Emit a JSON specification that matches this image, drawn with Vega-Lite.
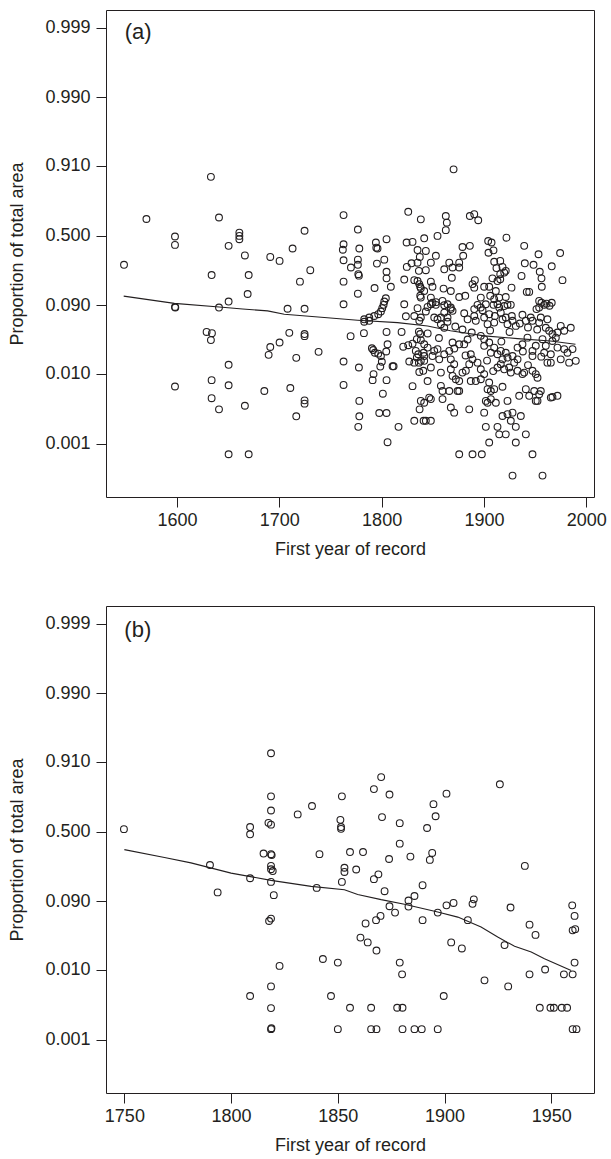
{
"$schema": "https://vega.github.io/schema/vega-lite/v6.json",
"padding": {"left": 8, "top": 9, "right": 14, "bottom": 2},
"spacing": 46,
"config": {
  "font": "Liberation Sans",
  "view": {"stroke": "#231f20", "strokeWidth": 1},
  "axis": {"domain": false, "grid": false, "tickColor": "#231f20", "tickSize": 10, "tickWidth": 1, "labelFont": "Liberation Sans", "labelFontSize": 18, "labelColor": "#231f20", "titleFont": "Liberation Sans", "titleFontSize": 18, "titleFontWeight": "normal", "titleColor": "#231f20"},
  "axisX": {"labelPadding": 4, "titlePadding": 11},
  "axisY": {"labelPadding": 6, "titlePadding": 18}
},
"datasets": {
"a": [
{"year":1633.2,"logit":1.95},{"year":1570.2,"logit":0.55},{"year":1641.1,"logit":0.60},{"year":1598.1,"logit":-0.03},{"year":1598.1,"logit":-0.31},{"year":1661.0,"logit":0.10},{"year":1661.0,"logit":-0.01},{"year":1661.0,"logit":-0.12},{"year":1650.5,"logit":-0.34},{"year":1666.4,"logit":-0.66},{"year":1548.3,"logit":-0.97},{"year":1633.9,"logit":-1.31},{"year":1670.1,"logit":-1.31},{"year":1669.1,"logit":-1.94},{"year":1650.5,"logit":-2.19},{"year":1598.1,"logit":-2.37},{"year":1598.4,"logit":-2.39},{"year":1641.1,"logit":-2.39},
{"year":1629.0,"logit":-3.20},{"year":1634.2,"logit":-3.24},{"year":1633.2,"logit":-3.47},{"year":1650.5,"logit":-4.29},{"year":1633.9,"logit":-4.80},{"year":1650.5,"logit":-4.97},{"year":1598.1,"logit":-5.01},{"year":1633.9,"logit":-5.40},{"year":1641.1,"logit":-5.77},{"year":1666.4,"logit":-5.65},{"year":1650.5,"logit":-7.26},{"year":1670.1,"logit":-7.26},
{"year":1870.3,"logit":2.2},
{"year":1762.8,"logit":0.68},{"year":1826.0,"logit":0.79},{"year":1838.3,"logit":0.54},{"year":1724.7,"logit":0.16},{"year":1776.8,"logit":0.20},{"year":1794.4,"logit":-0.23},{"year":1794.8,"logit":-0.40},{"year":1796.0,"logit":-0.43},{"year":1804.8,"logit":-0.12},{"year":1762.8,"logit":-0.29},{"year":1762.1,"logit":-0.47},{"year":1778.2,"logit":-0.43},{"year":1824.4,"logit":-0.23},{"year":1830.2,"logit":-0.21},{"year":1841.6,"logit":-0.09},{"year":1835.1,"logit":-0.48},{"year":1843.2,"logit":-0.51},{"year":1713.0,"logit":-0.43},{"year":1691.2,"logit":-0.71},{"year":1700.3,"logit":-0.84},{"year":1762.8,"logit":-0.82},{"year":1776.8,"logit":-0.80},{"year":1776.8,"logit":-0.97},{"year":1795.4,"logit":-0.93},{"year":1802.6,"logit":-0.80},{"year":1770.0,"logit":-1.06},{"year":1730.3,"logit":-1.15},{"year":1777.2,"logit":-1.28},{"year":1777.8,"logit":-1.33},{"year":1824.6,"logit":-1.04},{"year":1829.2,"logit":-0.92},{"year":1835.1,"logit":-0.90},{"year":1837.3,"logit":-0.71},{"year":1836.4,"logit":-1.17},{"year":1843.2,"logit":-1.15},{"year":1804.8,"logit":-1.20},{"year":1804.8,"logit":-1.42},{"year":1720.2,"logit":-1.53},{"year":1762.8,"logit":-1.53},{"year":1822.1,"logit":-1.46},{"year":1831.9,"logit":-1.48},{"year":1836.8,"logit":-1.61},{"year":1837.7,"logit":-1.70},{"year":1838.3,"logit":-1.75},{"year":1809.0,"logit":-1.70},{"year":1793.1,"logit":-1.74},{"year":1776.8,"logit":-1.93},{"year":1837.7,"logit":-2.00},{"year":1838.3,"logit":-2.06},{"year":1762.8,"logit":-2.28},{"year":1822.1,"logit":-2.28},{"year":1708.1,"logit":-2.43},{"year":1724.7,"logit":-2.43},{"year":1804.1,"logit":-2.08},{"year":1802.6,"logit":-2.19},{"year":1801.9,"logit":-2.30},{"year":1800.6,"logit":-2.41},{"year":1799.3,"logit":-2.52},{"year":1796.7,"logit":-2.61},{"year":1792.8,"logit":-2.67},{"year":1787.9,"logit":-2.72},{"year":1783.0,"logit":-2.78},{"year":1835.1,"logit":-2.41},{"year":1843.2,"logit":-2.52},{"year":1831.9,"logit":-2.67},
{"year":1783.0,"logit":-2.86},{"year":1787.9,"logit":-2.83},{"year":1823.7,"logit":-2.68},{"year":1836.8,"logit":-2.83},{"year":1709.8,"logit":-3.23},{"year":1724.7,"logit":-3.27},{"year":1724.7,"logit":-3.34},{"year":1691.2,"logit":-3.70},{"year":1700.3,"logit":-3.55},{"year":1689.6,"logit":-3.96},{"year":1716.6,"logit":-4.06},{"year":1738.4,"logit":-3.86},{"year":1769.7,"logit":-3.34},{"year":1782.7,"logit":-3.24},{"year":1804.8,"logit":-3.20},{"year":1819.5,"logit":-3.20},{"year":1836.4,"logit":-3.19},{"year":1837.7,"logit":-3.27},{"year":1834.4,"logit":-3.44},{"year":1838.3,"logit":-3.47},{"year":1790.5,"logit":-3.74},{"year":1791.8,"logit":-3.80},{"year":1793.4,"logit":-3.89},{"year":1796.7,"logit":-3.92},{"year":1799.3,"logit":-4.00},{"year":1805.8,"logit":-3.61},{"year":1804.5,"logit":-3.85},{"year":1821.1,"logit":-3.69},{"year":1826.0,"logit":-3.64},{"year":1830.2,"logit":-3.59},{"year":1833.4,"logit":-3.83},{"year":1835.8,"logit":-3.94},{"year":1834.4,"logit":-4.05},{"year":1838.3,"logit":-4.16},{"year":1836.4,"logit":-4.22},{"year":1841.0,"logit":-3.89},{"year":1841.6,"logit":-4.00},{"year":1800.2,"logit":-4.19},{"year":1798.7,"logit":-4.35},{"year":1762.8,"logit":-4.18},{"year":1777.8,"logit":-4.38},{"year":1810.7,"logit":-4.34},{"year":1811.7,"logit":-4.34},{"year":1827.0,"logit":-4.18},{"year":1831.9,"logit":-4.22},{"year":1841.6,"logit":-4.16},{"year":1836.8,"logit":-4.53},{"year":1840.7,"logit":-4.49},{"year":1792.1,"logit":-4.60},{"year":1791.2,"logit":-4.80},{"year":1804.8,"logit":-4.80},{"year":1762.8,"logit":-4.96},{"year":1710.8,"logit":-5.06},{"year":1685.4,"logit":-5.16},{"year":1801.2,"logit":-5.25},{"year":1830.2,"logit":-5.00},{"year":1844.9,"logit":-4.83},{"year":1724.7,"logit":-5.47},{"year":1724.7,"logit":-5.58},{"year":1778.2,"logit":-5.49},{"year":1838.3,"logit":-5.49},{"year":1841.6,"logit":-5.55},{"year":1837.1,"logit":-5.77},{"year":1716.6,"logit":-6.00},{"year":1778.2,"logit":-6.00},{"year":1797.7,"logit":-5.89},{"year":1804.8,"logit":-5.89},{"year":1831.9,"logit":-6.15},{"year":1841.0,"logit":-6.15},{"year":1843.2,"logit":-6.15},{"year":1777.2,"logit":-6.35},{"year":1816.5,"logit":-6.35},{"year":1805.8,"logit":-6.86},
{"year":1862.7,"logit":0.65},{"year":1863.7,"logit":0.43},{"year":1862.7,"logit":0.18},{"year":1886.2,"logit":0.65},{"year":1890.5,"logit":0.71},{"year":1894.4,"logit":0.51},{"year":1854.6,"logit":-0.01},{"year":1848.1,"logit":-0.90},{"year":1853.0,"logit":-0.67},{"year":1879.0,"logit":-0.38},{"year":1886.2,"logit":-0.34},{"year":1879.7,"logit":-0.67},{"year":1904.1,"logit":-0.18},{"year":1907.4,"logit":-0.23},{"year":1904.4,"logit":-0.57},{"year":1909.3,"logit":-0.49},{"year":1922.0,"logit":-0.07},{"year":1939.3,"logit":-0.34},{"year":1953.3,"logit":-0.62},{"year":1974.4,"logit":-0.58},{"year":1866.1,"logit":-0.90},{"year":1861.2,"logit":-1.12},{"year":1869.3,"logit":-1.06},{"year":1875.8,"logit":-0.90},{"year":1875.8,"logit":-1.06},{"year":1868.6,"logit":-1.40},{"year":1910.0,"logit":-0.87},{"year":1915.9,"logit":-0.84},{"year":1912.2,"logit":-1.08},{"year":1918.1,"logit":-1.04},{"year":1919.8,"logit":-1.23},{"year":1915.9,"logit":-1.28},{"year":1921.3,"logit":-1.17},{"year":1939.9,"logit":-0.92},{"year":1948.4,"logit":-0.97},{"year":1966.2,"logit":-1.02},{"year":1954.5,"logit":-1.20},{"year":1956.2,"logit":-1.42},{"year":1956.5,"logit":-1.70},{"year":1936.7,"logit":-1.34},{"year":1976.7,"logit":-1.48},{"year":1908.3,"logit":-1.42},{"year":1913.2,"logit":-1.51},{"year":1915.9,"logit":-1.45},{"year":1891.1,"logit":-1.48},{"year":1888.8,"logit":-1.61},{"year":1890.5,"logit":-1.73},{"year":1848.1,"logit":-1.53},{"year":1849.7,"logit":-1.70},{"year":1835.1,"logit":-1.51},{"year":1841.6,"logit":-1.84},{"year":1860.5,"logit":-1.76},{"year":1867.6,"logit":-1.84},{"year":1900.2,"logit":-1.70},{"year":1905.1,"logit":-1.70},{"year":1911.6,"logit":-1.84},{"year":1906.1,"logit":-2.00},{"year":1910.0,"logit":-2.11},{"year":1914.9,"logit":-2.06},{"year":1913.2,"logit":-2.28},{"year":1921.3,"logit":-2.04},{"year":1926.9,"logit":-1.73},{"year":1875.8,"logit":-2.04},{"year":1881.7,"logit":-2.00},{"year":1896.9,"logit":-2.06},{"year":1893.7,"logit":-2.30},{"year":1941.8,"logit":-1.87},{"year":1944.2,"logit":-1.87},{"year":1923.0,"logit":-2.30},{"year":1953.9,"logit":-2.17},{"year":1956.2,"logit":-2.23},{"year":1961.1,"logit":-2.26},{"year":1966.2,"logit":-2.23},{"year":1951.3,"logit":-2.44},{"year":1848.1,"logit":-2.06},{"year":1849.7,"logit":-2.23},{"year":1844.9,"logit":-2.37},{"year":1853.0,"logit":-2.30},{"year":1859.5,"logit":-2.17},{"year":1864.4,"logit":-2.28},{"year":1867.6,"logit":-2.44},{"year":1861.2,"logit":-2.56},{"year":1890.5,"logit":-2.44},{"year":1898.6,"logit":-2.48},{"year":1937.6,"logit":-2.63},{"year":1945.7,"logit":-2.72},{"year":1905.1,"logit":-2.61},{"year":1910.6,"logit":-2.67},{"year":1916.4,"logit":-2.56},{"year":1921.3,"logit":-2.72},{"year":1927.2,"logit":-2.67},{"year":1851.4,"logit":-2.72},{"year":1857.9,"logit":-2.72},{"year":1864.4,"logit":-2.72},{"year":1955.5,"logit":-2.72},{"year":1962.0,"logit":-2.78},
{"year":1869.3,"logit":-2.50},{"year":1919.8,"logit":-2.34},{"year":1926.2,"logit":-2.30},{"year":1854.6,"logit":-2.78},{"year":1857.9,"logit":-2.94},{"year":1861.2,"logit":-3.06},{"year":1890.5,"logit":-2.67},{"year":1892.0,"logit":-2.83},{"year":1900.2,"logit":-2.72},{"year":1903.5,"logit":-2.94},{"year":1910.0,"logit":-2.89},{"year":1918.1,"logit":-2.78},{"year":1923.0,"logit":-2.94},{"year":1927.9,"logit":-2.83},{"year":1931.1,"logit":-3.00},{"year":1940.9,"logit":-2.83},{"year":1947.4,"logit":-2.83},{"year":1953.9,"logit":-2.89},
{"year":1848.1,"logit":-2.28},{"year":1853.0,"logit":-2.21},{"year":1861.2,"logit":-2.31},{"year":1867.6,"logit":-2.39},{"year":1896.9,"logit":-2.39},{"year":1901.8,"logit":-2.28},{"year":1909.3,"logit":-2.30},{"year":1914.9,"logit":-2.39},{"year":1953.9,"logit":-2.39},{"year":1958.8,"logit":-2.30},{"year":1964.0,"logit":-2.33},{"year":1838.3,"logit":-2.72},{"year":1864.4,"logit":-2.86},{"year":1880.7,"logit":-2.58},{"year":1884.0,"logit":-2.78},{"year":1935.0,"logit":-2.92},{"year":1943.0,"logit":-3.05},{"year":1872.0,"logit":-3.02},{"year":1879.0,"logit":-3.12},{"year":1888.0,"logit":-3.22},{"year":1906.0,"logit":-3.15},{"year":1925.0,"logit":-3.20},{"year":1952.0,"logit":-3.12},{"year":1845.0,"logit":-3.25},{"year":1856.0,"logit":-3.40},{"year":1884.0,"logit":-3.45},{"year":1917.0,"logit":-3.52},{"year":1938.0,"logit":-3.85},{"year":1956.0,"logit":-4.02},{"year":1871.0,"logit":-3.75},{"year":1882.0,"logit":-3.98},{"year":1903.0,"logit":-4.15},{"year":1909.0,"logit":-4.50},{"year":1943.0,"logit":-4.30},
{"year":1960.4,"logit":-3.06},{"year":1963.7,"logit":-3.16},{"year":1966.9,"logit":-3.27},{"year":1971.8,"logit":-3.22},{"year":1975.0,"logit":-3.00},{"year":1978.4,"logit":-3.16},{"year":1970.2,"logit":-3.39},{"year":1966.9,"logit":-3.50},{"year":1971.8,"logit":-3.72},{"year":1978.4,"logit":-3.77},{"year":1981.6,"logit":-3.89},{"year":1986.5,"logit":-3.77},{"year":1989.7,"logit":-4.16},{"year":1983.2,"logit":-4.22},{"year":1975.0,"logit":-4.11},{"year":1965.3,"logit":-3.94},{"year":1960.4,"logit":-3.66},{"year":1957.2,"logit":-3.44},{"year":1965.3,"logit":-4.22},{"year":1984.8,"logit":-3.06},
{"year":1841.6,"logit":-3.61},{"year":1844.9,"logit":-3.72},{"year":1851.4,"logit":-3.83},{"year":1854.6,"logit":-3.77},{"year":1849.7,"logit":-4.00},{"year":1856.3,"logit":-4.11},{"year":1861.2,"logit":-3.94},{"year":1866.1,"logit":-3.83},{"year":1867.6,"logit":-4.11},{"year":1870.9,"logit":-4.27},{"year":1848.1,"logit":-4.38},{"year":1857.9,"logit":-4.55},{"year":1867.6,"logit":-4.44},{"year":1869.3,"logit":-4.66},{"year":1872.5,"logit":-4.77},{"year":1875.8,"logit":-4.83},{"year":1879.0,"logit":-4.55},{"year":1882.3,"logit":-4.49},
{"year":1869.3,"logit":-3.55},{"year":1875.8,"logit":-3.61},{"year":1880.7,"logit":-3.61},{"year":1887.1,"logit":-3.94},{"year":1888.8,"logit":-4.11},{"year":1885.6,"logit":-4.27},{"year":1893.7,"logit":-4.22},{"year":1896.9,"logit":-4.44},{"year":1900.2,"logit":-4.60},{"year":1896.9,"logit":-4.77},{"year":1892.0,"logit":-4.83},{"year":1887.1,"logit":-4.83},
{"year":1896.9,"logit":-3.33},{"year":1900.2,"logit":-3.44},{"year":1900.2,"logit":-3.66},{"year":1905.1,"logit":-3.55},{"year":1910.0,"logit":-3.72},{"year":1906.7,"logit":-3.89},{"year":1913.2,"logit":-3.94},{"year":1916.4,"logit":-3.83},{"year":1921.3,"logit":-3.89},{"year":1918.1,"logit":-4.11},{"year":1923.0,"logit":-4.05},{"year":1927.9,"logit":-4.00},{"year":1916.4,"logit":-4.27},{"year":1913.2,"logit":-4.38},{"year":1919.8,"logit":-4.44},{"year":1924.6,"logit":-4.38},{"year":1929.5,"logit":-4.22},{"year":1932.8,"logit":-4.11},{"year":1926.2,"logit":-4.55},{"year":1932.8,"logit":-4.49},
{"year":1932.8,"logit":-3.72},{"year":1937.6,"logit":-3.61},{"year":1942.5,"logit":-3.39},{"year":1947.4,"logit":-3.83},{"year":1947.4,"logit":-4.00},{"year":1950.6,"logit":-3.66},{"year":1958.8,"logit":-3.89},{"year":1962.0,"logit":-4.22},
{"year":1937.6,"logit":-4.60},{"year":1939.3,"logit":-4.55},{"year":1947.4,"logit":-4.49},{"year":1950.6,"logit":-4.60},{"year":1952.3,"logit":-4.72},
{"year":1857.9,"logit":-4.99},{"year":1859.5,"logit":-5.16},{"year":1866.1,"logit":-5.16},{"year":1874.2,"logit":-5.16},{"year":1875.8,"logit":-5.16},
{"year":1905.1,"logit":-4.88},{"year":1903.5,"logit":-5.10},{"year":1906.7,"logit":-5.16},{"year":1910.0,"logit":-5.10},{"year":1918.1,"logit":-5.02},{"year":1923.0,"logit":-5.49},
{"year":1934.4,"logit":-5.32},{"year":1940.9,"logit":-5.10},{"year":1944.2,"logit":-5.32},{"year":1949.1,"logit":-5.16},{"year":1952.3,"logit":-5.49},{"year":1955.5,"logit":-5.16},{"year":1953.9,"logit":-5.27},{"year":1950.6,"logit":-5.49},{"year":1965.3,"logit":-5.38},{"year":1966.9,"logit":-5.36},{"year":1971.8,"logit":-5.32},
{"year":1846.5,"logit":-5.38},{"year":1848.1,"logit":-5.43},{"year":1859.5,"logit":-5.43},
{"year":1867.6,"logit":-5.71},{"year":1870.9,"logit":-5.88},{"year":1885.6,"logit":-5.77},
{"year":1901.8,"logit":-5.49},{"year":1903.5,"logit":-5.55},{"year":1906.7,"logit":-5.43},{"year":1911.6,"logit":-5.55},{"year":1900.2,"logit":-5.88},
{"year":1918.1,"logit":-5.99},{"year":1923.0,"logit":-5.93},{"year":1927.9,"logit":-5.88},{"year":1936.0,"logit":-5.99},{"year":1926.2,"logit":-6.15},{"year":1931.1,"logit":-6.35},
{"year":1848.1,"logit":-6.15},
{"year":1901.8,"logit":-6.35},{"year":1913.2,"logit":-6.35},{"year":1914.9,"logit":-6.60},{"year":1921.3,"logit":-6.60},{"year":1940.9,"logit":-6.60},
{"year":1905.1,"logit":-6.87},{"year":1931.1,"logit":-6.87},
{"year":1875.8,"logit":-7.26},{"year":1888.8,"logit":-7.26},{"year":1897.9,"logit":-7.26},{"year":1947.4,"logit":-7.26},
{"year":1927.9,"logit":-7.97},{"year":1957.2,"logit":-7.97}
],
"b": [
{"year":1749.8,"logit":0.08},{"year":1808.9,"logit":0.15},{"year":1808.9,"logit":-0.09},{"year":1817.5,"logit":0.29},{"year":1818.7,"logit":0.23},{"year":1818.7,"logit":0.70},{"year":1818.7,"logit":1.17},{"year":1818.7,"logit":2.60},{"year":1831.2,"logit":0.57},{"year":1837.9,"logit":0.85},{"year":1851.2,"logit":0.39},{"year":1851.5,"logit":0.15},{"year":1851.5,"logit":0.09},{"year":1851.9,"logit":1.17},{"year":1815.2,"logit":-0.73},{"year":1818.7,"logit":-0.75},{"year":1819.0,"logit":-0.78},{"year":1841.4,"logit":-0.75},{"year":1855.7,"logit":-0.68},{"year":1790.1,"logit":-1.11},{"year":1818.7,"logit":-1.14},{"year":1818.7,"logit":-1.25},{"year":1819.5,"logit":-1.31},{"year":1853.1,"logit":-1.20},{"year":1853.1,"logit":-1.34},{"year":1858.6,"logit":-1.26},{"year":1808.9,"logit":-1.55},{"year":1818.7,"logit":-1.67},{"year":1840.1,"logit":-1.87},{"year":1851.9,"logit":-1.67},{"year":1793.7,"logit":-2.02},{"year":1820.0,"logit":-2.11},{"year":1818.7,"logit":-2.89},{"year":1817.8,"logit":-2.97},{"year":1843.0,"logit":-4.23},{"year":1850.0,"logit":-4.35},{"year":1822.7,"logit":-4.46},{"year":1818.7,"logit":-5.14},{"year":1808.9,"logit":-5.46},{"year":1846.8,"logit":-5.46},{"year":1818.7,"logit":-5.86},{"year":1855.7,"logit":-5.85},{"year":1818.7,"logit":-6.56},{"year":1818.9,"logit":-6.53},{"year":1850.0,"logit":-6.56},
{"year":1870.3,"logit":1.81},{"year":1866.9,"logit":1.41},{"year":1874.2,"logit":1.23},{"year":1925.9,"logit":1.57},{"year":1900.9,"logit":1.26},{"year":1894.8,"logit":0.91},{"year":1895.8,"logit":0.51},{"year":1870.7,"logit":0.48},{"year":1879.0,"logit":0.28},{"year":1891.8,"logit":0.12},{"year":1879.0,"logit":-0.40},{"year":1861.8,"logit":-0.68},{"year":1874.0,"logit":-0.91},{"year":1884.0,"logit":-0.83},{"year":1894.2,"logit":-0.71},{"year":1893.1,"logit":-0.94},{"year":1937.6,"logit":-1.14},{"year":1866.9,"logit":-1.58},{"year":1869.0,"logit":-1.42},{"year":1889.7,"logit":-1.78},{"year":1871.9,"logit":-1.98},{"year":1885.9,"logit":-2.14},{"year":1883.1,"logit":-2.29},{"year":1883.1,"logit":-2.49},{"year":1913.7,"logit":-2.25},{"year":1913.1,"logit":-2.40},{"year":1900.9,"logit":-2.45},{"year":1904.2,"logit":-2.37},{"year":1874.2,"logit":-2.48},{"year":1876.8,"logit":-2.69},{"year":1959.8,"logit":-2.45},{"year":1930.9,"logit":-2.52},{"year":1896.8,"logit":-2.69},{"year":1960.9,"logit":-2.80},{"year":1870.0,"logit":-2.80},{"year":1867.9,"logit":-2.94},{"year":1889.7,"logit":-2.94},{"year":1910.9,"logit":-2.94},{"year":1863.0,"logit":-3.05},{"year":1939.8,"logit":-3.09},{"year":1960.0,"logit":-3.28},{"year":1961.2,"logit":-3.24},{"year":1942.6,"logit":-3.43},{"year":1860.6,"logit":-3.52},{"year":1864.0,"logit":-3.68},{"year":1903.1,"logit":-3.68},{"year":1908.1,"logit":-3.88},{"year":1868.1,"logit":-3.95},{"year":1928.1,"logit":-3.77},{"year":1879.0,"logit":-4.35},{"year":1960.9,"logit":-4.35},{"year":1880.1,"logit":-4.74},{"year":1939.8,"logit":-4.74},{"year":1947.1,"logit":-4.58},{"year":1955.9,"logit":-4.74},{"year":1960.0,"logit":-4.74},{"year":1918.7,"logit":-4.94},{"year":1929.8,"logit":-5.14},{"year":1899.6,"logit":-5.46},{"year":1865.6,"logit":-5.85},{"year":1877.8,"logit":-5.85},{"year":1880.3,"logit":-5.85},{"year":1944.6,"logit":-5.85},{"year":1949.6,"logit":-5.85},{"year":1951.2,"logit":-5.85},{"year":1954.9,"logit":-5.85},{"year":1957.4,"logit":-5.85},{"year":1865.6,"logit":-6.56},{"year":1868.1,"logit":-6.56},{"year":1880.3,"logit":-6.56},{"year":1885.9,"logit":-6.56},{"year":1889.3,"logit":-6.56},{"year":1896.8,"logit":-6.56},{"year":1960.0,"logit":-6.56},{"year":1961.8,"logit":-6.56}
],
"curveA": [
{"year":1548.0,"logit":-2.01},{"year":1597.5,"logit":-2.25},{"year":1641.4,"logit":-2.37},{"year":1664.2,"logit":-2.44},{"year":1688.6,"logit":-2.50},{"year":1704.9,"logit":-2.61},{"year":1744.0,"logit":-2.72},{"year":1776.5,"logit":-2.81},{"year":1815.6,"logit":-2.89},{"year":1844.9,"logit":-3.00},{"year":1867.3,"logit":-3.16},{"year":1900.2,"logit":-3.33},{"year":1932.8,"logit":-3.42},{"year":1965.0,"logit":-3.50},{"year":1989.4,"logit":-3.61}
],
"curveB": [
{"year":1750.0,"logit":-0.60},{"year":1768.8,"logit":-0.86},{"year":1781.2,"logit":-1.04},{"year":1800.0,"logit":-1.38},{"year":1818.7,"logit":-1.62},{"year":1837.5,"logit":-1.82},{"year":1853.1,"logit":-1.93},{"year":1859.3,"logit":-2.09},{"year":1870.3,"logit":-2.26},{"year":1881.2,"logit":-2.41},{"year":1896.8,"logit":-2.67},{"year":1906.2,"logit":-2.84},{"year":1917.1,"logit":-3.17},{"year":1924.9,"logit":-3.50},{"year":1932.8,"logit":-3.81},{"year":1940.6,"logit":-4.00},{"year":1946.8,"logit":-4.22},{"year":1959.3,"logit":-4.61}
]
},
"vconcat": [
{
  "width": 488, "height": 487,
  "layer": [
    {"data": {"name": "a"},
     "mark": {"type": "point", "shape": "circle", "filled": false, "stroke": "#231f20", "strokeWidth": 1.1, "size": 46, "opacity": 1},
     "encoding": {
       "x": {"field": "year", "type": "quantitative", "scale": {"domain": [1530.7, 2007.5], "nice": false, "zero": false}, "axis": {"values": [1600, 1700, 1800, 1900, 2000], "format": "d", "title": "First year of record"}},
       "y": {"field": "logit", "type": "quantitative", "scale": {"domain": [-8.68, 7.49], "nice": false, "zero": false}, "axis": {"values": [-6.9068, -4.5951, -2.3136, 0, 2.3136, 4.5951, 6.9068], "labelExpr": "datum.value < -6 ? '0.001' : datum.value < -4 ? '0.010' : datum.value < -1 ? '0.090' : datum.value < 1 ? '0.500' : datum.value < 4 ? '0.910' : datum.value < 6 ? '0.990' : '0.999'", "title": "Proportion of total area"}}
     }},
    {"data": {"name": "curveA"},
     "mark": {"type": "line", "color": "#231f20", "strokeWidth": 1.1},
     "encoding": {"x": {"field": "year", "type": "quantitative"}, "y": {"field": "logit", "type": "quantitative"}}},
    {"data": {"values": [{"label": "(a)"}]},
     "mark": {"type": "text", "align": "left", "baseline": "alphabetic", "fontSize": 22, "font": "Liberation Sans", "color": "#231f20"},
     "encoding": {"x": {"datum": 1548.9, "type": "quantitative"}, "y": {"datum": 6.53, "type": "quantitative"}, "text": {"field": "label"}}}
  ]
},
{
  "width": 488, "height": 487,
  "layer": [
    {"data": {"name": "b"},
     "mark": {"type": "point", "shape": "circle", "filled": false, "stroke": "#231f20", "strokeWidth": 1.1, "size": 46, "opacity": 1},
     "encoding": {
       "x": {"field": "year", "type": "quantitative", "scale": {"domain": [1741.4, 1970], "nice": false, "zero": false}, "axis": {"values": [1750, 1800, 1850, 1900, 1950], "format": "d", "title": "First year of record"}},
       "y": {"field": "logit", "type": "quantitative", "scale": {"domain": [-8.68, 7.49], "nice": false, "zero": false}, "axis": {"values": [-6.9068, -4.5951, -2.3136, 0, 2.3136, 4.5951, 6.9068], "labelExpr": "datum.value < -6 ? '0.001' : datum.value < -4 ? '0.010' : datum.value < -1 ? '0.090' : datum.value < 1 ? '0.500' : datum.value < 4 ? '0.910' : datum.value < 6 ? '0.990' : '0.999'", "title": "Proportion of total area"}}
     }},
    {"data": {"name": "curveB"},
     "mark": {"type": "line", "color": "#231f20", "strokeWidth": 1.1},
     "encoding": {"x": {"field": "year", "type": "quantitative"}, "y": {"field": "logit", "type": "quantitative"}}},
    {"data": {"values": [{"label": "(b)"}]},
     "mark": {"type": "text", "align": "left", "baseline": "alphabetic", "fontSize": 22, "font": "Liberation Sans", "color": "#231f20"},
     "encoding": {"x": {"datum": 1750.0, "type": "quantitative"}, "y": {"datum": 6.45, "type": "quantitative"}, "text": {"field": "label"}}}
  ]
}
]
}
